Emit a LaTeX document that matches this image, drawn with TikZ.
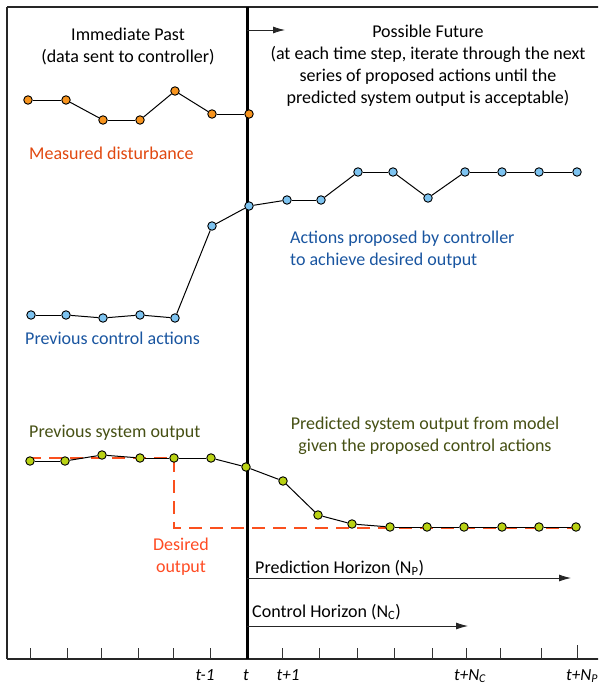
\documentclass[tikz,border=0pt]{standalone}
\usepackage{fontspec}
\setmainfont{Carlito}
\usetikzlibrary{arrows.meta}
\definecolor{mkorange}{RGB}{247,148,30}
\definecolor{mkblue}{RGB}{125,195,240}
\definecolor{mkgreen}{RGB}{185,210,20}
\definecolor{txtorange}{RGB}{225,72,15}
\definecolor{txtblue}{RGB}{25,85,160}
\definecolor{txtolive}{RGB}{70,80,20}
\definecolor{txtred}{RGB}{255,75,35}
\definecolor{dashred}{RGB}{250,80,30}
\tikzset{
  marker/.style={circle,draw=black,line width=0.9pt,inner sep=0pt,minimum size=8.5pt},
  omark/.style={marker,fill=mkorange},
  bmark/.style={marker,fill=mkblue},
  gmark/.style={marker,fill=mkgreen},
  series/.style={draw=black,line width=1pt},
  txt/.style={inner sep=0pt,font=\fontsize{18}{22}\selectfont,align=center},
  ticklabel/.style={inner sep=0pt,font=\fontsize{17}{20}\selectfont\itshape},
  horizon/.style={draw=black!85,line width=0.8pt,-{Latex[length=12pt,width=7pt]}},
  tickmark/.style={draw=black!80,line width=0.8pt}
}
\begin{document}
\begin{tikzpicture}[x=1pt,y=-1pt]
\useasboundingbox (0,0) rectangle (598,685);
\begin{scope}
\clip (0,0) rectangle (598,685);
% frame
\draw[line width=1.8pt,black!85] (7,7) -- (610,7);
\draw[line width=1.2pt,black!85] (7,7) -- (7,659);
\draw[line width=2pt,black!85] (7,659) -- (610,659);
% ticks
\foreach \x in {30,67,101,138,173,210,282,319,357,394,432,466,500,541}
  \draw[tickmark] (\x,648) -- (\x,659);
\draw[tickmark] (577,645) -- (577,659);
% desired output dashed
\coordinate (d1) at (28,458);
\coordinate (d2) at (174,458);
\coordinate (d3) at (174,528);
\coordinate (d4) at (578,528);
\draw[dashred,line width=1.8pt,dash pattern=on 13pt off 8pt] (d1) -- (d2) -- (d3) -- (d4);
% thick time line
\coordinate (ttop) at (247,7);
\coordinate (tbot) at (247,659);
\draw[line width=3pt] (ttop) -- (tbot);
% top arrow
\coordinate (a1) at (247,30);
\coordinate (a2) at (285,30);
\draw[horizon] (a1) -- (a2);
% horizons
\coordinate (p1) at (247,578);
\coordinate (p2) at (571,578);
\draw[horizon] (p1) -- (p2);
\coordinate (c1) at (247,626);
\coordinate (c2) at (468,626);
\draw[horizon] (c1) -- (c2);
% orange series
\foreach \i/\x/\y in {1/28/100,2/66/100,3/103/120,4/140/120,5/175/91,6/212/114,7/249/114}
  \node[omark] (o\i) at (\x,\y) {};
\foreach \i [evaluate=\i as \j using int(\i+1)] in {1,...,6}
  \draw[series] (o\i) -- (o\j);
% blue series
\foreach \i/\x/\y in {1/31/315,2/66/315,3/103/318,4/140/315,5/175/318,6/212/226,7/249/206,8/287/200,9/321/200,10/358/172,11/393/172,12/428/198,13/465/172,14/502/172,15/539/172,16/577/172}
  \node[bmark] (b\i) at (\x,\y) {};
\foreach \i [evaluate=\i as \j using int(\i+1)] in {1,...,15}
  \draw[series] (b\i) -- (b\j);
% green series
\foreach \i/\x/\y in {1/30/461,2/65/461,3/102/455,4/140/458,5/174/458,6/211/458,7/246/467,8/283/481,9/318/515,10/352/524,11/390/527,12/427/527,13/464/527,14/502/527,15/539/527,16/576/527}
  \node[gmark] (g\i) at (\x,\y) {};
\foreach \i [evaluate=\i as \j using int(\i+1)] in {1,...,15}
  \draw[series] (g\i) -- (g\j);
% texts
\node[txt] (past) at (128,46) {Immediate Past\\(data sent to controller)};
\node[txt] (future) at (428,66) {Possible Future\\(at each time step, iterate through the next\\series of proposed actions until the\\predicted system output is acceptable)};
\node[txt,text=txtorange,anchor=west] (md) at (29,153) {Measured disturbance};
\node[txt,text=txtblue,anchor=west,align=left] (ap) at (290,250) {Actions proposed by controller\\to achieve desired output};
\node[txt,text=txtblue,anchor=west] (pca) at (25,338) {Previous control actions};
\node[txt,text=txtolive,anchor=west] (pso) at (29,433) {Previous system output};
\node[txt,text=txtolive] (pred) at (425,436) {Predicted system output from model\\given the proposed control actions};
\node[txt,text=txtred] (des) at (181,557) {Desired\\output};
\node[txt,anchor=west] (ph) at (255,568) {Prediction Horizon (N\textsubscript{P})};
\node[txt,anchor=west] (ch) at (252,612) {Control Horizon (N\textsubscript{C})};
% tick labels
\node[ticklabel] (l1) at (205,675) {t-1};
\node[ticklabel] (l2) at (246,675) {t};
\node[ticklabel] (l3) at (288,675) {t+1};
\node[ticklabel] (l4) at (470,676) {t+N\textsubscript{C}};
\node[ticklabel,anchor=west] (l5) at (566,676) {t+N\textsubscript{P}};
\end{scope}
\end{tikzpicture}
\end{document}
